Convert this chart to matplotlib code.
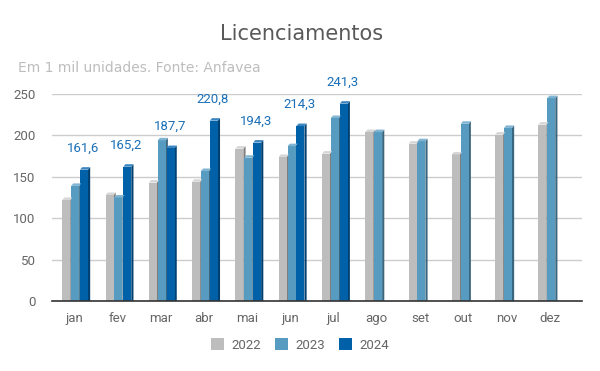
import numpy as np
import matplotlib
matplotlib.use("Agg")
import matplotlib.pyplot as plt
from matplotlib.patches import Polygon

months = ["jan", "fev", "mar", "abr", "mai", "jun", "jul", "ago", "set", "out", "nov", "dez"]
v2022 = [125, 131, 146, 147, 187, 177, 181, 207, 193, 180, 204, 216]
v2023 = [142, 128, 197, 160, 176, 190, 224, 207, 196, 217, 212, 248]
v2024 = [161.6, 165.2, 187.7, 220.8, 194.3, 214.3, 241.3, np.nan, np.nan, np.nan, np.nan, np.nan]
series_names = ["2022", "2023", "2024"]
colors = ["#bdbdbd", "#579cc0", "#0061a8"]
side_colors = ["#7d7d7d", "#3a6680", "#003f70"]
top_colors = ["#d6d6d6", "#7fb5d3", "#3a85c0"]

fig = plt.figure(figsize=(6.0, 3.71), dpi=100)
ax = fig.add_axes([0.087, 0.1887, 0.883, 0.558])

x = np.arange(len(months))
width = 0.185
step = 0.205
dx = 0.05
dy = 3.0
for i, (vals, c, sc, tc) in enumerate(zip([v2022, v2023, v2024], colors, side_colors, top_colors)):
    xs = x + (i - 1) * step + 0.03
    arr = np.array(vals, dtype=float)
    ax.bar(xs, arr - dy, width=width, color=c, zorder=3, label=series_names[i])
    for xi, v in zip(xs, arr):
        if np.isnan(v):
            continue
        f = v - dy
        xl, xr = xi - width / 2, xi + width / 2
        side = Polygon([(xr, 0), (xr + dx, 0), (xr + dx, f + dy), (xr, f)], closed=True,
                       facecolor=sc, edgecolor="none", zorder=2.9)
        top = Polygon([(xl, f), (xr, f), (xr + dx, f + dy), (xl + dx, f + dy)], closed=True,
                      facecolor=tc, edgecolor="none", zorder=3.1)
        ax.add_patch(side)
        ax.add_patch(top)
    if i == 2:
        for xi, v in zip(xs, arr):
            if np.isnan(v):
                continue
            ax.annotate(f"{v:.1f}".replace(".", ","), (xi - 0.02, v), xytext=(0, 9),
                        textcoords="offset points", ha="center", va="bottom",
                        fontsize=9.5, color="#1a6fb8", family="Roboto")

ax.set_xlim(-0.5, 11.74)
ax.set_ylim(0, 250)
ax.set_yticks([0, 50, 100, 150, 200, 250])
ax.set_xticks(x)
ax.set_xticklabels(months)
ax.grid(axis="y", color="#cccccc", linewidth=1, zorder=0)
ax.set_axisbelow(True)
for s in ["top", "right", "left"]:
    ax.spines[s].set_visible(False)
ax.spines["bottom"].set_color("#333333")
ax.spines["bottom"].set_linewidth(1.2)
ax.spines["bottom"].set_zorder(4)
ax.tick_params(axis="both", length=0, labelsize=9.5, labelcolor="#666666")
ax.tick_params(axis="x", pad=8)
ax.tick_params(axis="y", pad=12)
for lab in ax.get_xticklabels() + ax.get_yticklabels():
    lab.set_family("Roboto")

fig.text(0.503, 0.908, "Licenciamentos", ha="center", va="center", fontsize=15,
         color="#595959", family="DejaVu Sans")
fig.text(0.030, 0.818, "Em 1 mil unidades. Fonte: Anfavea", ha="left", va="center",
         fontsize=10, color="#bdbdbd", family="DejaVu Sans")

handles, labels = ax.get_legend_handles_labels()
leg = fig.legend(handles, labels, loc="center", bbox_to_anchor=(0.5, 0.07), ncol=3,
                 frameon=False, handlelength=1.0, handleheight=1.0, handletextpad=0.6,
                 columnspacing=1.0, prop={"family": "Roboto", "size": 9.5})
for t in leg.get_texts():
    t.set_color("#666666")

fig.savefig("out.png", dpi=100)
